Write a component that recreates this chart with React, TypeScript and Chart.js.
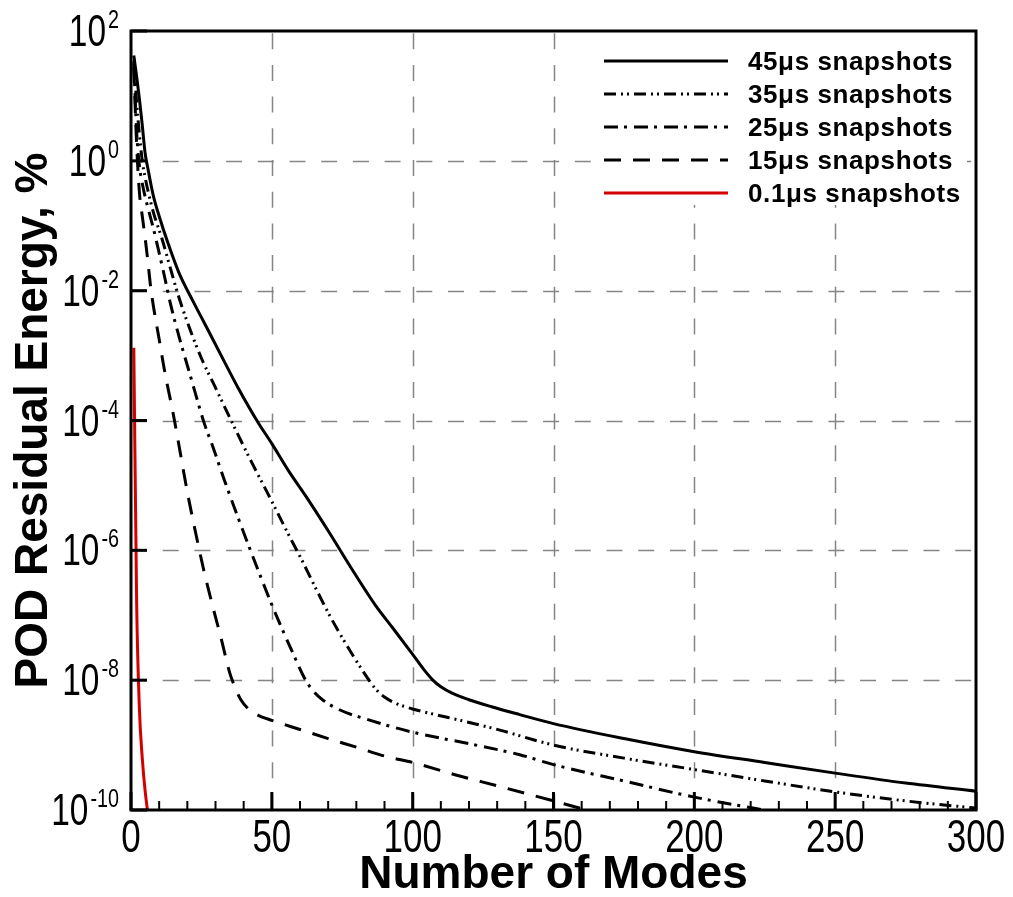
import React, { useEffect, useRef } from "react";
import { Chart, registerables } from "chart.js";

Chart.register(...registerables);

// ---- Data (residual energy in %) ----
const modes45 = [1, 2, 3, 4, 5, 6, 7, 8, 10, 13, 17, 22, 26, 33, 38, 45, 50, 56, 62, 70, 78, 87, 93, 100, 104, 107, 110, 114, 120, 128, 138, 150, 175, 200, 225, 250, 275, 300];
const energy45 = [42, 20, 8.9, 3.55, 1.32, 0.76, 0.45, 0.28, 0.14, 0.056, 0.019, 6.9e-3, 3.2e-3, 8.3e-4, 3.2e-4, 9.5e-5, 4.4e-5, 1.66e-5, 6.9e-6, 2.0e-6, 5.5e-7, 1.38e-7, 6.3e-8, 2.5e-8, 1.45e-8, 1.02e-8, 7.9e-9, 6.3e-9, 5.0e-9, 3.9e-9, 2.95e-9, 2.14e-9, 1.26e-9, 7.9e-10, 5.4e-10, 3.7e-10, 2.6e-10, 1.95e-10];

const modes35 = [1, 2, 3, 4, 5, 6, 8, 11, 14, 17, 21, 25, 30, 36, 43, 49, 55, 61, 66, 71, 76, 82, 87, 90, 94, 100, 108, 117, 131, 150, 175, 200, 225, 250, 275, 300];
const energy35 = [35, 7.9, 2.5, 1.0, 0.56, 0.35, 0.158, 0.063, 0.022, 7.9e-3, 2.5e-3, 9.1e-4, 3.2e-4, 9.1e-5, 2.2e-5, 6.9e-6, 2.1e-6, 6.6e-7, 2.4e-7, 9.1e-8, 3.8e-8, 1.45e-8, 7.2e-9, 5.5e-9, 4.4e-9, 3.6e-9, 2.95e-9, 2.4e-9, 1.7e-9, 1.0e-9, 6.3e-10, 4.2e-10, 2.8e-10, 1.9e-10, 1.38e-10, 1.07e-10];

const modes25 = [1, 2, 3, 4, 5, 6, 8, 10, 12, 14, 17, 21, 26, 29, 33, 38, 44, 50, 57, 62, 65, 68, 74, 85, 100, 120, 138, 150, 175, 200, 230, 240];
const energy25 = [32, 2.8, 0.83, 0.45, 0.28, 0.19, 0.089, 0.038, 0.0158, 6.3e-3, 2.0e-3, 5.0e-4, 9.1e-5, 4.0e-5, 1.26e-5, 3.2e-6, 6.6e-7, 1.45e-7, 2.9e-8, 1.0e-8, 6.6e-9, 5.0e-9, 3.5e-9, 2.4e-9, 1.58e-9, 1.05e-9, 7.1e-10, 5.0e-10, 2.8e-10, 1.58e-10, 9.1e-11, 7.6e-11];

const modes15 = [1, 2, 3, 4, 5, 6, 7, 8, 10, 12, 15, 17, 20, 23, 26, 29, 32, 35, 37, 39, 42, 45, 50, 60, 70, 80, 91, 100, 115, 131, 150, 160, 170];
const energy15 = [28, 1.78, 0.32, 0.141, 0.066, 0.028, 0.0112, 5.6e-3, 1.78e-3, 5.6e-4, 1.26e-4, 4.2e-5, 7.9e-6, 1.82e-6, 4.6e-7, 1.38e-7, 4.4e-8, 1.32e-8, 7.6e-9, 5.0e-9, 3.5e-9, 2.9e-9, 2.4e-9, 1.74e-9, 1.26e-9, 9.3e-10, 6.6e-10, 5.4e-10, 3.5e-10, 2.3e-10, 1.38e-10, 1.05e-10, 7.9e-11];

const modes01 = [1, 2, 3, 4, 5, 6, 7];
const energy01 = [1.32e-3, 1.58e-7, 3.5e-9, 6.3e-10, 2.0e-10, 8.9e-11, 5.0e-11];

const seriesLabels = ["45\u03BCs snapshots", "35\u03BCs snapshots", "25\u03BCs snapshots", "15\u03BCs snapshots", "0.1\u03BCs snapshots"];

// ---- Axes ----
const xMin = 0;
const xMax = 300;
const yMin = 1e-10;
const yMax = 1e2;
const xMajorTicks = [0, 50, 100, 150, 200, 250, 300];
const xMinorTicks = [10, 20, 30, 40, 60, 70, 80, 90, 110, 120, 130, 140, 160, 170, 180, 190, 210, 220, 230, 240, 260, 270, 280, 290];
const xGridValues = [50, 100, 150, 200, 250];
const yTickValues = [1e2, 1e0, 1e-2, 1e-4, 1e-6, 1e-8, 1e-10];
const yTickExponents = ["2", "0", "-2", "-4", "-6", "-8", "-10"];
const yGridValues = [1e0, 1e-2, 1e-4, 1e-6, 1e-8];
const xTitle = "Number of Modes";
const yTitle = "POD Residual Energy, %";

const pts = (xs: number[], ys: number[]) => xs.map((x, i) => ({ x, y: ys[i] }));

const FONT = '"Liberation Sans", Arial, Helvetica, sans-serif';
const NARROW = 0.76;

function drawNarrow(ctx: CanvasRenderingContext2D, text: string, x: number, y: number, size: number, align: CanvasTextAlign) {
  ctx.save();
  ctx.translate(x, y);
  ctx.scale(NARROW, 1);
  ctx.font = `${size}px ${FONT}`;
  ctx.textAlign = align;
  ctx.textBaseline = "alphabetic";
  ctx.fillStyle = "#000";
  ctx.fillText(text, 0, 0);
  ctx.restore();
}

function narrowWidth(ctx: CanvasRenderingContext2D, text: string, size: number) {
  ctx.save();
  ctx.font = `${size}px ${FONT}`;
  const w = ctx.measureText(text).width * NARROW;
  ctx.restore();
  return w;
}

const tecplotPlugin = {
  id: "tecplotAxes",
  beforeDatasetsDraw(chart: any) {
    const { ctx, chartArea: a, scales } = chart;
    const x = scales.x;
    const y = scales.y;
    ctx.save();
    ctx.strokeStyle = "#858585";
    ctx.lineWidth = 1.5;
    ctx.setLineDash([16, 15.7]);
    for (const v of xGridValues) {
      const px = Math.round(x.getPixelForValue(v)) + 0.5;
      ctx.beginPath();
      ctx.moveTo(px, a.bottom);
      ctx.lineTo(px, a.top);
      ctx.stroke();
    }
    for (const v of yGridValues) {
      const py = Math.round(y.getPixelForValue(v)) + 0.5;
      ctx.beginPath();
      ctx.moveTo(a.left, py);
      ctx.lineTo(a.right, py);
      ctx.stroke();
    }
    ctx.restore();
  },
  afterDatasetsDraw(chart: any) {
    const { ctx, chartArea: a, scales } = chart;
    const x = scales.x;
    const y = scales.y;
    ctx.save();

    // Legend (inside plot, top right, white backing)
    ctx.fillStyle = "#fff";
    ctx.fillRect(a.left + 463, a.top + 2, 373, 172);
    const ds = chart.data.datasets;
    ds.forEach((d: any, i: number) => {
      const cy = a.top + 30 + i * 33;
      ctx.save();
      ctx.strokeStyle = d.borderColor;
      ctx.lineWidth = 3;
      ctx.setLineDash(d.borderDash || []);
      ctx.beginPath();
      ctx.moveTo(a.left + 473, cy);
      ctx.lineTo(a.left + 597, cy);
      ctx.stroke();
      ctx.restore();
      ctx.save();
      ctx.font = `bold 26px ${FONT}`;
      (ctx as any).letterSpacing = "0.6px";
      ctx.fillStyle = "#000";
      ctx.textAlign = "left";
      ctx.textBaseline = "alphabetic";
      ctx.fillText(d.label, a.left + 617, cy + 9);
      ctx.restore();
    });

    // Frame
    ctx.strokeStyle = "#000";
    ctx.lineWidth = 3;
    ctx.setLineDash([]);
    ctx.strokeRect(a.left, a.top, a.right - a.left, a.bottom - a.top);

    // X ticks (inward)
    ctx.lineWidth = 3;
    for (const v of xMajorTicks) {
      const px = x.getPixelForValue(v);
      ctx.beginPath();
      ctx.moveTo(px, a.bottom);
      ctx.lineTo(px, a.bottom - 18);
      ctx.stroke();
    }
    ctx.lineWidth = 2;
    for (const v of xMinorTicks) {
      const px = x.getPixelForValue(v);
      ctx.beginPath();
      ctx.moveTo(px, a.bottom);
      ctx.lineTo(px, a.bottom - 9);
      ctx.stroke();
    }
    // Y ticks (inward)
    ctx.lineWidth = 3;
    for (const v of yTickValues) {
      const py = y.getPixelForValue(v);
      ctx.beginPath();
      ctx.moveTo(a.left, py);
      ctx.lineTo(a.left + 16, py);
      ctx.stroke();
    }

    // X tick labels
    for (const v of xMajorTicks) {
      const px = x.getPixelForValue(v);
      drawNarrow(ctx, String(v), px, a.bottom + 42, 46, "center");
    }
    // Y tick labels 10^n
    yTickValues.forEach((v, i) => {
      const py = y.getPixelForValue(v);
      const right = a.left - 12;
      const sup = yTickExponents[i];
      const supW = narrowWidth(ctx, sup, 26);
      drawNarrow(ctx, sup, right, py - 3, 26, "right");
      drawNarrow(ctx, "10", right - supW - 2, py + 15, 44, "right");
    });

    // Axis titles
    ctx.fillStyle = "#000";
    ctx.font = `bold 46px ${FONT}`;
    ctx.textAlign = "center";
    ctx.textBaseline = "alphabetic";
    ctx.fillText(xTitle, (a.left + a.right) / 2, a.bottom + 78);
    ctx.save();
    ctx.translate(a.left - 84, (a.top + a.bottom) / 2);
    ctx.rotate(-Math.PI / 2);
    ctx.fillText(yTitle, 0, 0);
    ctx.restore();

    ctx.restore();
  },
};

export default function App() {
  const canvasRef = useRef<HTMLCanvasElement | null>(null);

  useEffect(() => {
    const canvas = canvasRef.current;
    if (!canvas) return;
    const common = {
      pointRadius: 0,
      borderWidth: 3,
      fill: false,
      cubicInterpolationMode: "monotone" as const,
      borderCapStyle: "butt" as const,
      borderJoinStyle: "round" as const,
      clip: 0,
    };
    const chart = new Chart(canvas, {
      type: "line",
      data: {
        datasets: [
          { ...common, label: seriesLabels[0], data: pts(modes45, energy45), borderColor: "#000000", borderDash: [] },
          { ...common, label: seriesLabels[1], data: pts(modes35, energy35), borderColor: "#000000", borderDash: [12, 5, 2, 4, 2, 5] },
          { ...common, label: seriesLabels[2], data: pts(modes25, energy25), borderColor: "#000000", borderDash: [14, 6, 3, 7] },
          { ...common, label: seriesLabels[3], data: pts(modes15, energy15), borderColor: "#000000", borderDash: [17, 12] },
          { ...common, label: seriesLabels[4], data: pts(modes01, energy01), borderColor: "#d40000", borderDash: [] },
        ],
      },
      options: {
        responsive: false,
        animation: false,
        events: [],
        layout: { padding: { left: 131, top: 31, right: 37, bottom: 87 } },
        scales: {
          x: { type: "linear", min: xMin, max: xMax, display: false },
          y: { type: "logarithmic", min: yMin, max: yMax, display: false },
        },
        plugins: {
          legend: { display: false },
          tooltip: { enabled: false },
        },
      },
      plugins: [tecplotPlugin],
    });
    return () => chart.destroy();
  }, []);

  return (
    <div style={{ position: "absolute", left: 0, top: 0, width: 1013, height: 897, background: "#fff" }}>
      <canvas ref={canvasRef} width={1013} height={897} style={{ display: "block", width: 1013, height: 897 }} />
    </div>
  );
}
